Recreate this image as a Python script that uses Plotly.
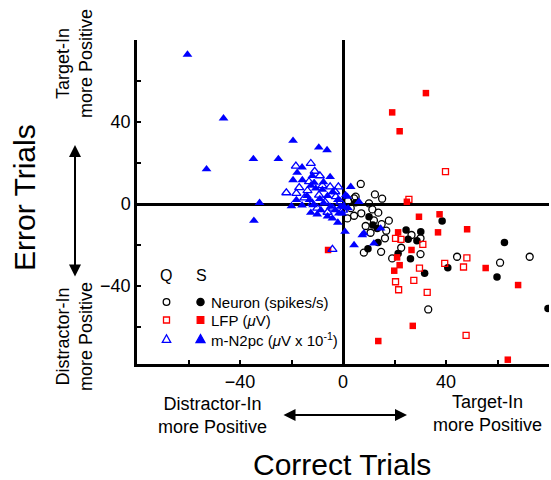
import plotly.graph_objects as go

# ---------------- data ----------------
neuron_q_x = [6.9, 12.4, 15.2, 4.9, 10.1, 11.4, 13.7, 7.1, 4.3, 1.7, 17.8, 15.0, 8.8, 10.7, 16.8, 16.3,
              26.6, 30.1, 22.6, 14.8, 8.1, 19.1, 30.1, 44.3, 61.0, 72.5, 33.1, 4.3, 2.0, 12.0, 3.0]
neuron_q_y = [9.8, 4.7, 2.6, 3.6, 0.3, -2.6, -4.2, -4.5, -5.7, -7.0, -8.1, -9.8, -10.7, -14.0, -13.0, -16.7,
              -15.1, -16.7, -21.3, -23.3, -23.7, -26.5, -24.4, -25.7, -28.6, -25.7, -51.4, 2.8, 1.5, -8.0, -2.0]

neuron_s_x = [10.1, 11.6, 13.3, 24.5, 30.2, 38.5, 25.3, 28.7, 13.6, 9.7, 21.4, 26.2, 31.7, 40.7, 62.7,
              59.8, 79.6, 4.9]
neuron_s_y = [-6.2, -10.2, -11.9, -12.7, -13.5, -8.3, -17.2, -17.9, -18.7, -21.8, -24.1, -26.7, -33.7,
              -31.1, -18.7, -35.6, -50.9, 0.6]

lfp_q_x = [39.8, 25.6, 20.4, 22.5, 31.0, 48.1, 39.5, 46.8, 29.7, 20.4, 27.5, 21.6, 32.7, 47.8]
lfp_q_y = [15.8, 2.3, -16.7, -17.2, -19.7, -26.2, -28.9, -30.7, -31.2, -37.9, -37.2, -41.8, -43.1, -64.0]

lfp_s_x = [19.1, 22.0, 32.2, 24.8, 29.5, 37.5, 48.2, 36.9, 21.4, 26.6, 21.0, 22.0, 19.9, 55.4, 68.0,
           27.1, 13.7, 64.0, -5.8]
lfp_s_y = [44.7, 35.5, 54.1, 1.1, -6.2, -5.0, -12.3, -13.8, -13.8, -22.4, -26.0, -29.8, -32.5, -31.2,
           -39.5, -59.4, -66.8, -75.9, -22.4]

n2pc_q_x = [-18.3, -12.5, -9.0, -13.2, -5.0, -1.8, -22.0, -18.1, -13.8, -9.3, -2.8, -11.9, -7.0, -4.0,
            -10.0, -15.0, -1.0, -6.0, -3.0, -8.0, -17.0, -4.1, -11.0, 0.0]
n2pc_q_y = [18.5, 19.8, 13.8, 10.9, 8.4, 8.4, 5.5, 5.2, 6.5, 4.4, 3.6, 0.3, 1.0, -2.0,
            -2.0, 3.0, 1.0, -4.0, 6.0, 9.0, 8.0, -22.1, 16.0, -3.0]

n2pc_s_x = [-60.4, -46.4, -19.4, -9.4, -6.2, -34.8, -25.1, -53.0, -15.9, -17.8, -11.9, -5.0, -19.4,
            -15.8, -11.2, -7.6, -10.6, -12.5, -8.0, -4.0, -6.0, -14.0, -9.0, -18.1, -32.4, -15.9,
            -12.5, -8.6, -4.1, -11.6, -7.4, -4.8, -1.6, -0.9, 1.0, 3.0, 1.7, 6.2, 0.4, -0.3, 0.8,
            8.1, 14.6, 7.5, 4.3, 12.0, -34.6, -2.0, -3.0, -10.0, -6.0, 2.0, -2.0, -13.0, -20.0]
n2pc_s_y = [72.9, 41.8, 30.9, 27.6, 26.3, 22.0, 22.0, 17.0, 17.9, 15.3, 13.8, 13.2, 11.7,
            11.7, 10.4, 10.7, 7.6, 9.0, 7.0, 6.0, 4.0, 4.0, 2.5, 2.0, 0.6, -0.6,
            -4.2, -2.9, -7.0, -0.5, 0.3, -1.3, -4.5, -1.3, 4.4, 8.4, 3.6, 1.1, -1.3, -4.5, -13.5,
            -14.3, -11.9, -15.1, -20.0, -19.2, -8.1, 2.0, -3.0, -5.0, -6.0, -2.0, -9.0, 2.0, -1.0]

tick_vals = [-60, -40, -20, 0, 20, 40, 60, 80]
tick_text = ["", "\u221240", "", "0", "", "40", "", ""]

FONT = "Liberation Sans, Arial, Helvetica, sans-serif"
BLACK = "#000000"
RED = "#ff0000"
BLUE = "#0000ff"

W, H = 551, 480
ML, MR, MT, MB = 137, 2, 40, 116
PW, PH = W - ML - MR, H - MT - MB


def px(x):
    return (x - ML) / PW


def py(y):
    return (H - MB - y) / PH


fig = go.Figure()

open_line = 1.3
fig.add_trace(go.Scatter(x=neuron_q_x, y=neuron_q_y, mode="markers",
                         marker=dict(symbol="circle-open", size=7, color=BLACK, line=dict(width=open_line))))
fig.add_trace(go.Scatter(x=neuron_s_x, y=neuron_s_y, mode="markers",
                         marker=dict(symbol="circle", size=7.5, color=BLACK)))
fig.add_trace(go.Scatter(x=lfp_q_x, y=lfp_q_y, mode="markers",
                         marker=dict(symbol="square-open", size=6, color=RED, line=dict(width=open_line))))
fig.add_trace(go.Scatter(x=lfp_s_x, y=lfp_s_y, mode="markers",
                         marker=dict(symbol="square", size=6.5, color=RED)))
fig.add_trace(go.Scatter(x=n2pc_q_x, y=n2pc_q_y, mode="markers",
                         marker=dict(symbol="triangle-up-open", size=8, color=BLUE, line=dict(width=open_line))))
fig.add_trace(go.Scatter(x=n2pc_s_x, y=n2pc_s_y, mode="markers",
                         marker=dict(symbol="triangle-up", size=8.5, color=BLUE)))

axis_common = dict(
    tickvals=tick_vals, ticktext=tick_text, ticks="inside", ticklen=4, tickwidth=1.5,
    tickcolor=BLACK, showline=True, linecolor=BLACK, linewidth=2.5, mirror=False,
    showgrid=False, zeroline=True, zerolinecolor=BLACK, zerolinewidth=2.5,
    tickfont=dict(family=FONT, size=18, color=BLACK), fixedrange=True, automargin=False,
)

fig.update_layout(
    width=W, height=H, autosize=False,
    margin=dict(l=ML, r=MR, t=MT, b=MB, pad=0),
    paper_bgcolor="white", plot_bgcolor="white",
    showlegend=False,
    font=dict(family=FONT, color=BLACK),
    xaxis=dict(range=[-80, 80], **axis_common),
    yaxis=dict(range=[-78, 80], **axis_common),
)


def label(x, y, text, size, angle=0, xanchor="center"):
    return dict(x=px(x), y=py(y), xref="paper", yref="paper", text=text, showarrow=False,
                textangle=angle, xanchor=xanchor, yanchor="middle", align="center", borderpad=0,
                font=dict(size=size, family=FONT, color=BLACK))


ann = []
ann.append(label(342, 464, "Correct Trials", 30))
ann.append(label(25, 198, "Error Trials", 30, angle=-90))
ann.append(label(212, 415, "Distractor-In<br>more Positive", 18))
ann.append(label(487, 413, "Target-In<br>more Positive", 18))
ann.append(label(74, 64, "Target-In<br>more Positive", 18, angle=-90))
ann.append(label(74, 337, "Distractor-In<br>more Positive", 18, angle=-90))
# double arrows (ax/ay are pixel offsets of the tail from the head)
ann.append(dict(x=px(407), y=py(415), xref="paper", yref="paper", ax=-125, ay=0,
                text="", showarrow=True, arrowhead=2, arrowside="end+start",
                arrowsize=1.2, arrowwidth=2, arrowcolor=BLACK, standoff=0, startstandoff=0))
ann.append(dict(x=px(75), y=py(145), xref="paper", yref="paper", ax=0, ay=133,
                text="", showarrow=True, arrowhead=2, arrowside="end+start",
                arrowsize=1.2, arrowwidth=2, arrowcolor=BLACK, standoff=0, startstandoff=0))
# legend text
ann.append(label(166, 275, "Q", 16))
ann.append(label(201, 275, "S", 16))
legend_rows = [302, 320, 339]
legend_labels = ["Neuron (spikes/s)", "LFP (<i>\u03bc</i>V)", "m-N2pc (<i>\u03bc</i>V x 10<sup>-1</sup>)"]
for yy, lab in zip(legend_rows, legend_labels):
    ann.append(label(210, yy, lab, 15, xanchor="left"))
fig.update_layout(annotations=ann)

# legend keys drawn as shapes
shapes = []


def circle(cx, cy, r, filled, color):
    return dict(type="circle", xref="paper", yref="paper", x0=px(cx - r), x1=px(cx + r),
                y0=py(cy + r), y1=py(cy - r), line=dict(color=color, width=1.3),
                fillcolor=color if filled else "rgba(0,0,0,0)")


def square(cx, cy, r, filled, color):
    return dict(type="rect", xref="paper", yref="paper", x0=px(cx - r), x1=px(cx + r),
                y0=py(cy + r), y1=py(cy - r), line=dict(color=color, width=1.3),
                fillcolor=color if filled else "rgba(0,0,0,0)")


def tri(cx, cy, r, filled, color):
    path = "M {} {} L {} {} L {} {} Z".format(px(cx - r), py(cy + r * 0.8), px(cx + r), py(cy + r * 0.8),
                                              px(cx), py(cy - r))
    return dict(type="path", xref="paper", yref="paper", path=path, line=dict(color=color, width=1.3),
                fillcolor=color if filled else "rgba(0,0,0,0)")


shapes.append(circle(166.5, legend_rows[0], 3.3, False, BLACK))
shapes.append(circle(200.5, legend_rows[0], 3.6, True, BLACK))
shapes.append(square(166.5, legend_rows[1], 3.0, False, RED))
shapes.append(square(200.5, legend_rows[1], 3.3, True, RED))
shapes.append(tri(166.5, legend_rows[2], 4.2, False, BLUE))
shapes.append(tri(200.5, legend_rows[2], 4.5, True, BLUE))
fig.update_layout(shapes=shapes)

fig.write_html("out.html", config={"displayModeBar": False},
               post_script="document.body.style.margin='0';document.body.style.overflow='hidden';")
